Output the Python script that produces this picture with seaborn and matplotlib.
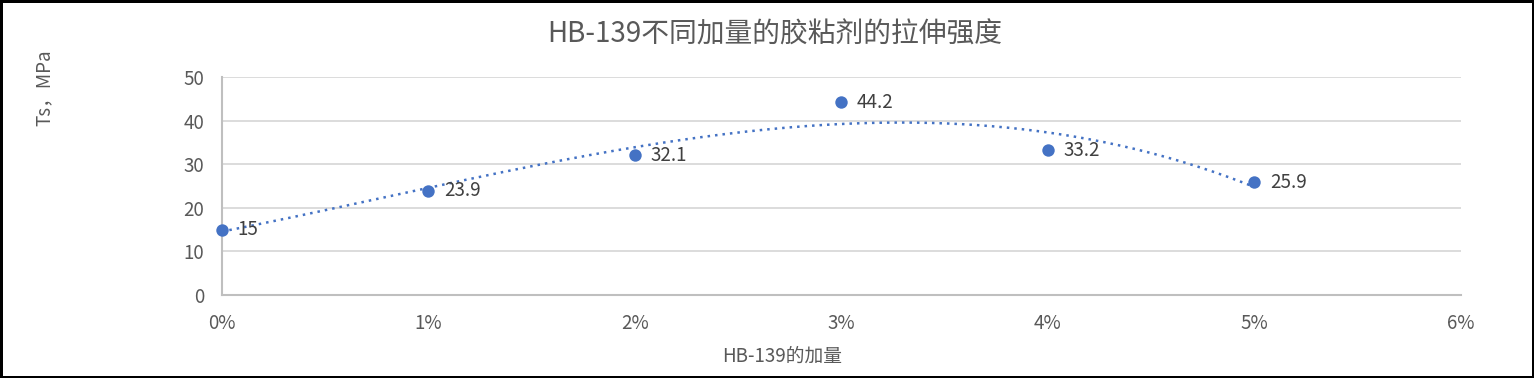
import numpy as np
import pandas as pd
import matplotlib
matplotlib.use("Agg")
import matplotlib.pyplot as plt
import seaborn as sns
from matplotlib.ticker import FuncFormatter

dosage = [0, 1, 2, 3, 4, 5]          # % HB-139
strength = [15, 23.9, 32.1, 44.2, 33.2, 25.9]
value_labels = ["15", "23.9", "32.1", "44.2", "33.2", "25.9"]
title = "HB-139不同加量的胶粘剂的拉伸强度"
xlabel = "HB-139的加量"
ylabel = "Ts，MPa"

sns.set_theme(style="white")
plt.rcParams['font.family'] = ['Noto Sans CJK SC', 'DejaVu Sans']

blue = "#4472C4"
gray_text = "#595959"

fig = plt.figure(figsize=(15.34, 3.78), dpi=100)
fig.patch.set_edgecolor("black")
fig.patch.set_linewidth(2.5)
ax = fig.add_axes([0.1447, 0.2196, 0.8077, 0.5767])

df = pd.DataFrame({"x": dosage, "y": strength})

# polynomial (order 3) trendline, like the spreadsheet's trendline
coef = np.polyfit(dosage, strength, 3)
xt = np.linspace(min(dosage), max(dosage), 200)
trend = pd.DataFrame({"x": xt, "y": np.polyval(coef, xt)})
sns.lineplot(data=trend, x="x", y="y", ax=ax, color=blue, linewidth=1.8,
             linestyle=(0, (1, 2)), zorder=3)
sns.scatterplot(data=df, x="x", y="y", ax=ax, color=blue, s=80,
                edgecolor=blue, linewidth=0, zorder=4, clip_on=False)

for xv, yv, lab in zip(dosage, strength, value_labels):
    ax.annotate(lab, (xv, yv), xytext=(11, 0), textcoords="offset points",
                ha="left", va="center", fontsize=13.5, color="#404040")

ax.set_xlim(0, 6)
ax.set_ylim(0, 50)
ax.set_xticks(range(0, 7))
ax.set_yticks(range(0, 51, 10))
ax.xaxis.set_major_formatter(FuncFormatter(lambda v, p: f"{int(v)}%"))
ax.tick_params(axis="both", length=0, labelsize=13.5, labelcolor=gray_text)
ax.tick_params(axis="x", pad=13)
ax.tick_params(axis="y", pad=13)

ax.grid(axis="y", color="#D9D9D9", linewidth=1.3)
ax.grid(axis="x", visible=False)
for s in ["top", "right"]:
    ax.spines[s].set_visible(False)
for s in ["left", "bottom"]:
    ax.spines[s].set_color("#BFBFBF")
    ax.spines[s].set_linewidth(1.5)

ax.set_xlabel("")
ax.set_ylabel("")
fig.text(782 / 1534, 1 - 356 / 378, xlabel, ha="center", va="center",
         fontsize=13.5, color=gray_text)
fig.text(44 / 1534, 1 - 88 / 378, ylabel, rotation=90,
         ha="center", va="center", fontsize=13.5, color=gray_text)
fig.text(775 / 1534, 1 - 35 / 378, title, ha="center", va="center",
         fontsize=20, color=gray_text)

fig.savefig("out.png", dpi=100)
